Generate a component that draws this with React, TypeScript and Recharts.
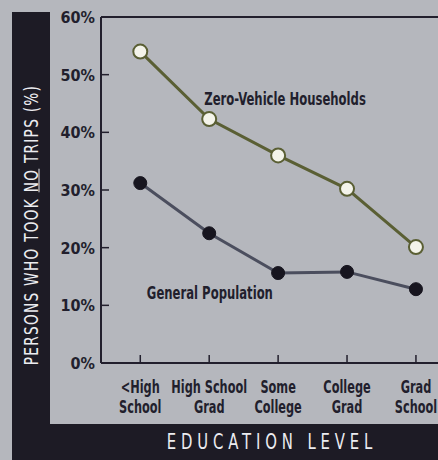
import React from 'react';
import {
  LineChart,
  Line,
  XAxis,
  YAxis,
  ReferenceLine,
  ReferenceDot
} from 'recharts';

const categoryLines = [
  ['<High', 'School'],
  ['High School', 'Grad'],
  ['Some', 'College'],
  ['College', 'Grad'],
  ['Grad', 'School']
];
const zeroVehicle = [54, 42.3, 36, 30.2, 20.1];
const generalPopulation = [31.2, 22.5, 15.6, 15.8, 12.8];
const yTicks = [0, 10, 20, 30, 40, 50, 60];

const FONT = '"DejaVu Sans", sans-serif';
const INK = '#221f2d';
const BAND = '#1d1b25';
const BG = '#b5b7bd';
const narrow = { fontStretch: 'condensed' } as React.CSSProperties;

const chartData = categoryLines.map((_, i) => ({
  x: i,
  zero: zeroVehicle[i],
  general: generalPopulation[i]
}));

function XTick(props: any) {
  const { x, y, payload } = props;
  const lines = categoryLines[payload.value] || [];
  return (
    <g>
      <line x1={x} x2={x} y1={y} y2={y - 8} stroke={INK} strokeWidth={1.5} />
      {lines.map((t, i) => (
        <text
          key={i}
          transform={`translate(${x},${y + 30 + i * 20}) scale(0.72,1)`}
          textAnchor="middle"
          fill={INK}
          fontFamily={FONT}
          fontWeight="bold"
          fontSize={17.5}
          style={narrow}
        >
          {t}
        </text>
      ))}
    </g>
  );
}

function YTick(props: any) {
  const { x, y, payload } = props;
  return (
    <g>
      {payload.value > 0 && payload.value < 60 && (
        <line x1={x} x2={x + 8} y1={y} y2={y} stroke={INK} strokeWidth={1.5} />
      )}
      <text
        x={x - 6}
        y={y + 6}
        textAnchor="end"
        fill={INK}
        fontFamily={FONT}
        fontWeight="bold"
        fontSize={16}
        style={narrow}
      >
        {payload.value}%
      </text>
    </g>
  );
}

function NoteLabel(props: any) {
  const { viewBox, text } = props;
  const cx = viewBox.x + (viewBox.width || 0) / 2;
  const cy = viewBox.y + (viewBox.height || 0) / 2;
  return (
    <text
      transform={`translate(${cx},${cy + 6}) scale(0.74,1)`}
      textAnchor="middle"
      fill={INK}
      fontFamily={FONT}
      fontWeight="bold"
      fontSize={17.5}
      style={narrow}
    >
      {text}
    </text>
  );
}

export default function App() {
  return (
    <div
      style={{
        position: 'absolute',
        left: 0,
        top: 0,
        width: 438,
        height: 460,
        overflow: 'hidden',
        background: BG
      }}
    >
      {/* dark frame bands */}
      <div style={{ position: 'absolute', left: 12, top: 12, width: 38, height: 448, background: BAND }} />
      <div style={{ position: 'absolute', left: 12, top: 424, width: 426, height: 36, background: BAND }} />

      <div style={{ position: 'absolute', left: 0, top: 0 }}>
        <LineChart
          width={438}
          height={460}
          data={chartData}
          margin={{ top: 17, right: 0, bottom: 0, left: 0 }}
        >
          <XAxis
            dataKey="x"
            type="number"
            domain={[-0.57, 4.32]}
            ticks={[0, 1, 2, 3, 4]}
            allowDataOverflow
            height={97}
            tickSize={0}
            tickMargin={0}
            tick={<XTick />}
            axisLine={{ stroke: INK, strokeWidth: 2 }}
            tickLine={false}
          />
          <YAxis
            type="number"
            domain={[0, 60]}
            ticks={yTicks}
            width={101}
            tickSize={0}
            tickMargin={0}
            tick={<YTick />}
            axisLine={{ stroke: INK, strokeWidth: 2 }}
            tickLine={false}
          />
          <ReferenceLine y={60} stroke={INK} strokeWidth={2} />
          <Line
            dataKey="zero"
            stroke="#5a5f34"
            strokeWidth={3}
            dot={{ r: 7, fill: '#f4f4ea', stroke: '#5a5f34', strokeWidth: 2 }}
            isAnimationActive={false}
          />
          <Line
            dataKey="general"
            stroke="#4b4e5e"
            strokeWidth={3}
            dot={{ r: 6.5, fill: '#17151f', stroke: '#17151f', strokeWidth: 1 }}
            isAnimationActive={false}
          />
          <ReferenceDot
            x={2.1}
            y={45.8}
            r={0}
            stroke="none"
            fill="none"
            label={<NoteLabel text="Zero-Vehicle Households" />}
          />
          <ReferenceDot
            x={1.01}
            y={12.1}
            r={0}
            stroke="none"
            fill="none"
            label={<NoteLabel text="General Population" />}
          />
        </LineChart>
      </div>

      {/* axis titles */}
      <div
        style={{
          position: 'absolute',
          left: 31,
          top: 225,
          transform: 'translate(-50%, -50%) rotate(-90deg) scale(0.8, 1)',
          whiteSpace: 'nowrap',
          color: '#ececf0',
          fontFamily: FONT,
          fontStretch: 'condensed',
          fontSize: 19,
          letterSpacing: 1.6,
          lineHeight: 1
        }}
      >
        PERSONS WHO TOOK <u>NO</u> TRIPS (%)
      </div>
      <div
        style={{
          position: 'absolute',
          left: 272,
          top: 442,
          transform: 'translate(-50%, -50%) scale(0.75, 1)',
          whiteSpace: 'nowrap',
          color: '#ececf0',
          fontFamily: FONT,
          fontStretch: 'condensed',
          fontSize: 22,
          letterSpacing: 6.5,
          lineHeight: 1
        }}
      >
        EDUCATION LEVEL
      </div>
    </div>
  );
}
